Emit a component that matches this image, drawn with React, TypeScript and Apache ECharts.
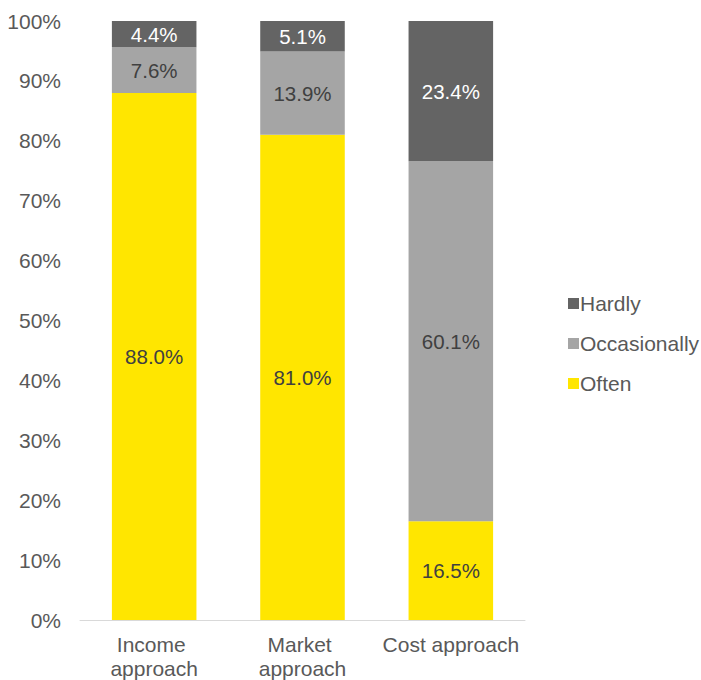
import React, { useEffect, useRef } from "react";
import * as echarts from "echarts";

const categories = ["Income approach", "Market approach", "Cost approach"];
const often = [88.0, 81.0, 16.5];
const occasionally = [7.6, 13.9, 60.1];
const hardly = [4.4, 5.1, 23.4];
const legendOrder = ["Hardly", "Occasionally", "Often"];

const FONT = "'Liberation Sans', Arial, sans-serif";

export default function App() {
  const ref = useRef<HTMLDivElement>(null);
  useEffect(() => {
    if (!ref.current) return;
    const chart = echarts.init(ref.current, undefined, { renderer: "svg" });
    const label = (color: string) => ({
      show: true,
      position: "inside" as const,
      color,
      fontSize: 20.5,
      fontFamily: FONT,
      formatter: (p: any) => p.value.toFixed(1) + "%",
    });
    chart.setOption({
      animation: false,
      textStyle: { fontFamily: FONT },
      grid: { left: 80, right: 176, top: 21, bottom: 60 },
      legend: {
        data: legendOrder,
        orient: "vertical",
        left: 563,
        top: 288,
        itemWidth: 11,
        itemHeight: 11,
        itemGap: 19,
        icon: "rect",
        textStyle: { color: "#595959", fontSize: 21, fontFamily: FONT, padding: [0, 0, 0, -4] },
      },
      xAxis: {
        type: "category",
        data: categories,
        axisLine: { lineStyle: { color: "#d9d9d9", width: 1 } },
        axisTick: { show: false },
        axisLabel: {
          color: "#595959",
          fontSize: 21,
          fontFamily: FONT,
          width: 145,
          overflow: "break",
          lineHeight: 24,
          margin: 12,
          interval: 0,
        },
      },
      yAxis: {
        type: "value",
        min: 0,
        max: 100,
        interval: 10,
        axisLine: { show: false },
        axisTick: { show: false },
        splitLine: { show: false },
        axisLabel: {
          color: "#595959",
          fontSize: 21,
          fontFamily: FONT,
          margin: 19,
          formatter: (v: number) => v + "%",
        },
      },
      series: [
        {
          name: "Often",
          type: "bar",
          stack: "total",
          barWidth: "57%",
          data: often,
          itemStyle: { color: "#ffe600" },
          label: label("#404040"),
        },
        {
          name: "Occasionally",
          type: "bar",
          stack: "total",
          data: occasionally,
          itemStyle: { color: "#a5a5a5" },
          label: label("#404040"),
        },
        {
          name: "Hardly",
          type: "bar",
          stack: "total",
          data: hardly,
          itemStyle: { color: "#646464" },
          label: label("#ffffff"),
        },
      ],
    });
    return () => chart.dispose();
  }, []);
  return (
    <div
      ref={ref}
      style={{ position: "fixed", left: 0, top: 0, width: 701, height: 680, background: "#fff" }}
    />
  );
}
